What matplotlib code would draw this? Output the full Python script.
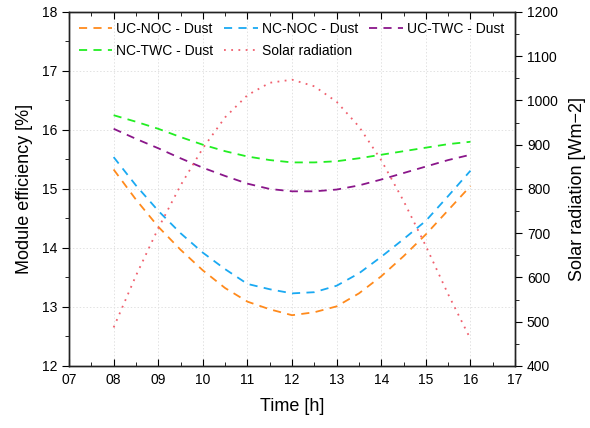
import numpy as np
from matplotlib import pyplot as plt
from matplotlib.ticker import MultipleLocator

plt.rcParams['font.family'] = ['Liberation Sans', 'DejaVu Sans']

# time of day [h], read every half hour off the figure
hours = [8, 8.5, 9, 9.5, 10, 10.5, 11, 11.5, 12, 12.5, 13, 13.5, 14, 14.5, 15, 15.5, 16]

uc_noc = [15.33, 14.82, 14.36, 13.97, 13.62, 13.32, 13.09, 12.96, 12.86, 12.91, 13.01,
          13.23, 13.52, 13.86, 14.23, 14.64, 15.05]
nc_noc = [15.54, 15.06, 14.63, 14.25, 13.92, 13.64, 13.39, 13.30, 13.23, 13.25, 13.36,
          13.57, 13.85, 14.15, 14.46, 14.88, 15.31]
uc_twc = [16.02, 15.85, 15.69, 15.52, 15.36, 15.22, 15.09, 15.00, 14.96, 14.96, 14.99,
          15.06, 15.16, 15.27, 15.38, 15.49, 15.58]
nc_twc = [16.25, 16.14, 16.02, 15.88, 15.75, 15.64, 15.55, 15.49, 15.45, 15.45, 15.47,
          15.52, 15.58, 15.64, 15.70, 15.76, 15.80]
solar = [487, 604, 711, 808, 892, 962, 1012, 1040, 1047, 1032, 997, 941, 865, 773, 671,
         562, 461]

xtick_vals = list(range(7, 18))
xtick_labels = ['%02d' % h for h in xtick_vals]

fig = plt.figure(figsize=(5.9, 4.28), dpi=100)
ax = fig.add_axes([0.117, 0.145, 0.756, 0.827])
ax2 = ax.twinx()

dash = (0, (4.5, 3.5))
l1, = ax.plot(hours, uc_noc, color='#ff8a1c', lw=1.3, ls=dash, label='UC-NOC - Dust')
l2, = ax.plot(hours, nc_noc, color='#1aa9f2', lw=1.3, ls=dash, label='NC-NOC - Dust')
l3, = ax.plot(hours, uc_twc, color='#8a168a', lw=1.3, ls=dash, label='UC-TWC - Dust')
l4, = ax.plot(hours, nc_twc, color='#22ee22', lw=1.3, ls=dash, label='NC-TWC - Dust')
l5, = ax2.plot(hours, solar, color='#f0606e', lw=1.3, ls=(0, (1, 3)), label='Solar radiation')

ax.set_xlim(7, 17)
ax.set_ylim(12, 18)
ax2.set_ylim(400, 1200)

ax.set_xticks(xtick_vals)
ax.set_xticklabels(xtick_labels)
ax.xaxis.set_minor_locator(MultipleLocator(0.5))
ax.yaxis.set_major_locator(MultipleLocator(1))
ax.yaxis.set_minor_locator(MultipleLocator(0.5))
ax2.yaxis.set_major_locator(MultipleLocator(100))
ax2.yaxis.set_minor_locator(MultipleLocator(50))

ax.tick_params(axis='x', which='both', direction='in', top=True, labelsize=10, pad=5)
ax.tick_params(axis='x', which='major', length=5)
ax.tick_params(axis='x', which='minor', length=3)
ax.tick_params(axis='y', which='both', direction='out', labelsize=10)
ax.tick_params(axis='y', which='major', length=5)
ax.tick_params(axis='y', which='minor', length=3)
ax2.tick_params(axis='y', which='both', direction='out', labelsize=10)
ax2.tick_params(axis='y', which='major', length=5)
ax2.tick_params(axis='y', which='minor', length=3)

ax.grid(True, which='major', color='#e2e2e2', ls=(0, (1.5, 2)), lw=0.7)
ax.set_axisbelow(True)

for a in (ax, ax2):
    for s in a.spines.values():
        s.set_color('#222222')
        s.set_linewidth(1.0)

ax.set_xlabel('Time [h]', fontsize=13, labelpad=8)
ax.set_ylabel('Module efficiency [%]', fontsize=13, labelpad=6)
ax2.set_ylabel('Solar radiation [Wm\u22122]', fontsize=13, labelpad=8)

# legend fills column by column, so order handles to read row by row
ax2.legend(handles=[l1, l4, l2, l5, l3], loc='upper left', ncol=3, frameon=False,
           fontsize=10, handlelength=2.4, handletextpad=0.3, columnspacing=0.8,
           labelspacing=0.6, borderaxespad=0.3)

plt.savefig('out.png', dpi=100)
plt.close()
